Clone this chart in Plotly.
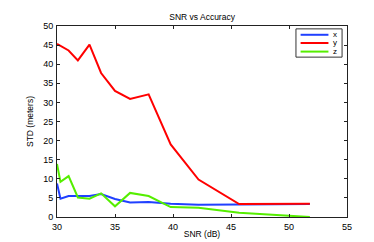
import plotly.graph_objects as go

snr = [30, 30.3, 31, 31.8, 32.8, 33.8, 35, 36.3, 37.9, 39.8, 42.2, 45.7, 51.8]
x_std = [8.8, 4.8, 5.5, 5.5, 5.5, 6.0, 4.7, 3.8, 3.9, 3.5, 3.2, 3.3, 3.4]
z_std = [13.9, 9.2, 10.7, 5.1, 4.8, 6.2, 2.8, 6.3, 5.5, 2.6, 2.4, 1.1, 0.0]

y_snr = [30, 31, 31.8, 32.8, 33.8, 35, 36.3, 37.9, 39.8, 42.2, 45.7, 51.8]
y_std = [45.3, 43.6, 41.0, 45.1, 37.7, 33.0, 30.9, 32.1, 19.0, 9.8, 3.4, 3.5]

series_names = ["x", "y", "z"]
series_colors = ["#2040ff", "#ff0000", "#55ee00"]

x_ticks = [30, 35, 40, 45, 50, 55]
y_ticks = [0, 5, 10, 15, 20, 25, 30, 35, 40, 45, 50]

font = "Liberation Sans, Arial, sans-serif"

fig = go.Figure()
for name, xs, ys, col in zip(series_names, [snr, y_snr, snr], [x_std, y_std, z_std], series_colors):
    fig.add_trace(go.Scatter(x=xs, y=ys, mode="lines", name=name,
                             line=dict(color=col, width=2), showlegend=False))

axis_common = dict(showline=True, linecolor="#222", linewidth=1, mirror="ticks",
                   ticks="inside", ticklen=3, tickcolor="#222", showgrid=False,
                   zeroline=False, tickfont=dict(size=9, color="#000", family=font))

# manual compact legend (MATLAB style) in paper coordinates
shapes = [dict(type="rect", xref="paper", yref="paper", x0=0.824, x1=0.983, y0=0.837, y1=0.985,
               line=dict(color="#333", width=1), fillcolor="white", layer="above")]
annotations = []
row_y = [0.954, 0.911, 0.866]
for name, col, yy in zip(series_names, series_colors, row_y):
    shapes.append(dict(type="line", xref="paper", yref="paper", x0=0.84, x1=0.936, y0=yy, y1=yy,
                       line=dict(color=col, width=2), layer="above"))
    annotations.append(dict(text=name, xref="paper", yref="paper", x=0.945, y=yy,
                            xanchor="left", yanchor="middle", showarrow=False,
                            font=dict(size=8, color="#000", family=font)))

fig.update_layout(
    width=374, height=242,
    margin=dict(l=49, r=35, t=18, b=28),
    paper_bgcolor="white", plot_bgcolor="white",
    title=dict(text="SNR vs Accuracy", x=0.519, xanchor="center", y=0.962, yanchor="middle",
               font=dict(size=8.5, color="#000", family=font)),
    xaxis=dict(range=[30, 55], tickvals=x_ticks, ticklabelstandoff=1, **axis_common,
               title=dict(text="SNR (dB)", standoff=0, font=dict(size=8.5, color="#000", family=font))),
    yaxis=dict(range=[0, 50], tickvals=y_ticks, ticklabelstandoff=1, **axis_common,
               title=dict(text="STD (meters)", standoff=8, font=dict(size=8.5, color="#000", family=font))),
    shapes=shapes,
    annotations=annotations,
    showlegend=False,
)

fig.write_html("out.html")
